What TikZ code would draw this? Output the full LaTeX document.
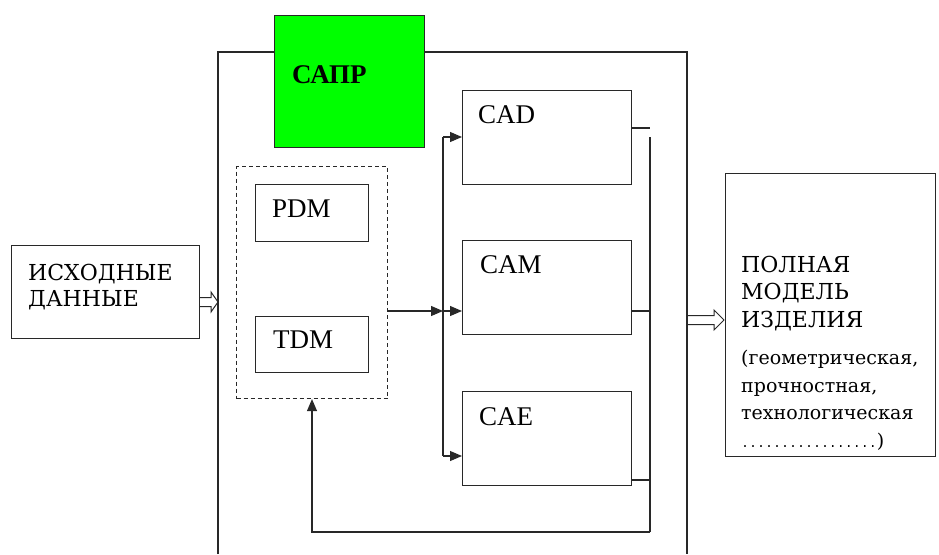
\documentclass[tikz,border=0pt]{standalone}
\usepackage{fontspec}
\setmainfont{Liberation Serif}
\newfontfamily\monof{Liberation Mono}
\newfontfamily\slabf{DejaVu Serif}
\usetikzlibrary{arrows.meta,calc}
\definecolor{sapr}{RGB}{0,255,0}
\definecolor{lncol}{RGB}{40,40,40}
\begin{document}
\begin{tikzpicture}[x=1pt,y=-1pt,
  ln/.style={line width=1.1pt, draw=lncol},
  box/.style={ln, fill=white, inner sep=0pt, anchor=north west},
  dbox/.style={box, dash pattern=on 4pt off 3pt},
  lbl/.style={anchor=base west, inner sep=0pt, font=\fontsize{27}{30}\selectfont},
  mlbl/.style={anchor=base west, inner sep=0pt, text height=17pt, text depth=2pt, font=\slabf\fontsize{22}{26}\selectfont},
  slbl/.style={anchor=base west, inner sep=0pt, text height=14pt, text depth=4pt, font=\slabf\fontsize{19}{22}\selectfont},
  arr/.style={ln, -{Triangle[length=12pt,width=10pt]}},
  hol/.style={line width=1pt, draw=lncol, line join=miter}]
\useasboundingbox (0,0) rectangle (939,554);
% outer frame of the system
\draw[ln] (218,554) -- (218,52) -- (687,52) -- (687,554);
% boxes
\node[box, fill=sapr, minimum width=150, minimum height=132] (sapr) at (274,15) {};
\node[box, minimum width=188, minimum height=93] (in) at (11,245) {};
\node[box, minimum width=210, minimum height=283] (out) at (725,173) {};
\node[dbox, minimum width=151, minimum height=232] (dm) at (236,166) {};
\node[box, minimum width=113, minimum height=57] (pdm) at (255,184) {};
\node[box, minimum width=113, minimum height=56] (tdm) at (255,316) {};
\node[box, minimum width=169, minimum height=94] (cad) at (462,90) {};
\node[box, minimum width=169, minimum height=94] (cam) at (462,240) {};
\node[box, minimum width=169, minimum height=94] (cae) at (462,391) {};
% labels
\node[lbl, font=\bfseries\fontsize{27}{30}\selectfont] at (292,83) {САПР};
\node[lbl] at (272,217) {PDM};
\node[lbl] at (273,348) {TDM};
\node[lbl] at (478,123) {CAD};
\node[lbl] at (480,273) {CAM};
\node[lbl] at (479,425) {CAE};
\node[mlbl] at (28,280) {ИСХОДНЫЕ};
\node[mlbl] at (28,306) {ДАННЫЕ};
\node[mlbl] at (741,272) {ПОЛНАЯ};
\node[mlbl] at (741,299) {МОДЕЛЬ};
\node[mlbl] at (741,327) {ИЗДЕЛИЯ};
\node[slbl] at (741,364) {(геометрическая,};
\node[slbl] at (741,392) {прочностная,};
\node[slbl] at (741,419) {технологическая};
\node[slbl] at (741,447) {{\monof\fontsize{13.3}{14}\selectfont .................}{)}};
% bus
\coordinate (bustop) at (443,137);
\coordinate (busmid) at (443,311);
\coordinate (busbot) at (443,456);
\draw[ln] (bustop) -- (busbot);
\draw[arr] (dm.east |- busmid) -- (busmid);
\draw[arr] (bustop) -- (cad.west |- bustop);
\draw[arr] (busmid) -- (cam.west |- busmid);
\draw[arr] (busbot) -- (cae.west |- busbot);
% collector on the right
\coordinate (c1) at (650,128);
\coordinate (coltop) at (650,137);
\coordinate (c2) at (650,311);
\coordinate (c3) at (650,480);
\coordinate (colbot) at (650,532);
\coordinate (fb) at (312,532);
\draw[ln] (cad.east |- c1) -- (c1);
\draw[ln] (cam.east |- c2) -- (c2);
\draw[ln] (cae.east |- c3) -- (c3);
\draw[ln] (coltop) -- (colbot);
\draw[arr] (colbot) -- (fb) -- (fb |- dm.south);
% hollow arrows
\coordinate (inarr) at (218,302);
\coordinate (outarr) at (724,320);
\draw[hol] ($(in.east |- inarr)+(0,-4.5)$) -- ($(inarr)+(-7,-4.5)$) -- ($(inarr)+(-7,-10)$)
  -- (inarr) -- ($(inarr)+(-7,10)$) -- ($(inarr)+(-7,4.5)$) -- ($(in.east |- inarr)+(0,4.5)$);
\draw[hol] ($(687,320)+(0,-4.5)$) -- ($(outarr)+(-10,-4.5)$) -- ($(outarr)+(-10,-10)$)
  -- (outarr) -- ($(outarr)+(-10,10)$) -- ($(outarr)+(-10,4.5)$) -- ($(687,320)+(0,4.5)$);
\end{tikzpicture}
\end{document}
